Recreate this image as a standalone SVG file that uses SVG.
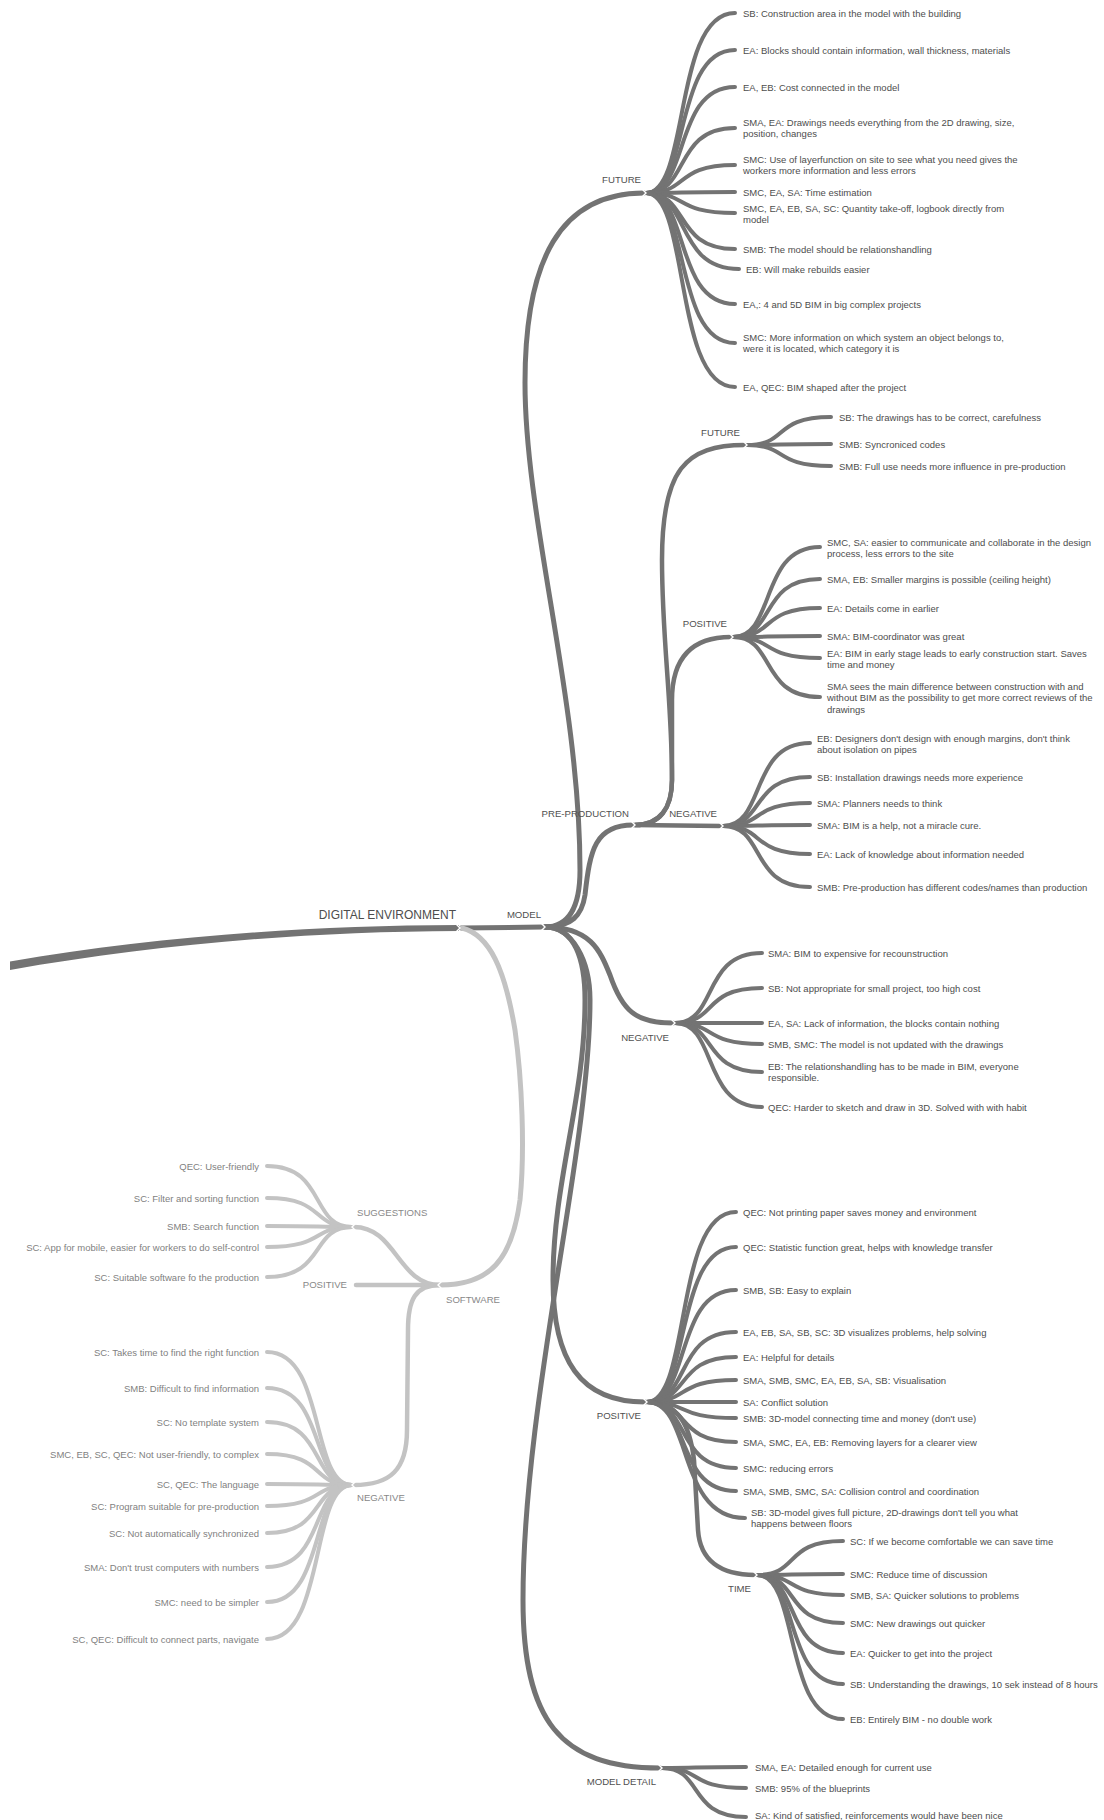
<svg xmlns="http://www.w3.org/2000/svg" width="1104" height="1820" viewBox="0 0 1104 1820">
<style>
.br{fill:none;stroke:#737373;stroke-linecap:round;stroke-width:5}
.l3{stroke-width:4.5}
.lf{stroke-width:4}
.sw{stroke:#c3c3c3}
.n{fill:none;stroke:#fff;stroke-width:1.4;stroke-linecap:butt}
text{font-family:"Liberation Sans",Arial,sans-serif;font-size:9.5px;fill:#4d4d4d}
.lb{font-size:9.6px;fill:#505050}
.st{fill:#7f7f7f}
.sl{font-size:9.6px;fill:#888}
.e{text-anchor:end}
</style>
<rect width="1104" height="1820" fill="#fff"/>
<g id="connectors">
<path d="M10,961.5 C150,937.5 300,925.5 459,925 L459,931 C300,931.5 150,945.5 10,970 Z" fill="#737373"/>
<path class="br" d="M461,928 L543,927"/>
<path class="br sw" d="M462,928 C490,935 505,970 515,1030 C522,1080 525,1150 520,1200 C512,1260 490,1285 440,1285"/>
<path class="br" d="M545,927 C570,927 580,905 580,870 C580,700 525,520 525,383 C525,260 560,193 644,193"/>
<path class="br" d="M545,927 C572,927 582,915 585,895 C590,850 595,825 633,825"/>
<path class="br" d="M545,927 C590,927 600,950 610,975 C622,1010 635,1023 673,1023"/>
<path class="br" d="M545,927 C575,927 585,960 585,1000 C585,1100 553,1180 553,1280 C553,1360 580,1402 645,1402"/>
<path class="br" d="M545,927 C572,927 590,960 590,1000 C590,1150 523,1400 523,1600 C523,1720 560,1768 660,1768"/>
<path class="br l3" d="M635,825 C660,825 672,808 672,780 C672,700 662,640 662,560 C662,470 685,445 745,445"/>
<path class="br l3" d="M635,825 C660,825 672,808 672,780 L672,700 C672,660 690,637 731,637"/>
<path class="br l3" d="M635,825 L721,826"/>
<path class="br l3" d="M647,1402 C678,1402 690,1425 694,1460 L698,1530 C700,1560 720,1575 755,1575"/>
<path class="br sw l3" d="M440,1285 C398,1285 396,1227 354,1227"/>
<path class="br sw l3" d="M440,1285 L356,1285"/>
<path class="br sw l3" d="M440,1285 C415,1285 408,1300 408,1330 L407,1430 C407,1470 390,1485 354,1485"/>
<g class="br lf">
<path d="M646,193 C690,193 673,13 735,13"/>
<path d="M646,193 C690,193 673,50 735,50"/>
<path d="M646,193 C690,193 673,87 735,87"/>
<path d="M646,193 C690,193 673,128 735,128"/>
<path d="M646,193 C690,193 673,165 735,165"/>
<path d="M646,193 C690,193 673,192 735,192"/>
<path d="M646,193 C690,193 673,213 735,213"/>
<path d="M646,193 C690,193 673,249 735,249"/>
<path d="M646,193 C690,193 675,269 739,269"/>
<path d="M646,193 C690,193 673,304 735,304"/>
<path d="M646,193 C690,193 673,343 735,343"/>
<path d="M646,193 C690,193 673,387 735,387"/>
<path d="M747,445 C789,445 772,417 831,417"/>
<path d="M747,445 C789,445 772,444 831,444"/>
<path d="M747,445 C789,445 772,466 831,466"/>
<path d="M733,637 C776,637 759,547 820,547"/>
<path d="M733,637 C776,637 759,579 820,579"/>
<path d="M733,637 C776,637 759,608 820,608"/>
<path d="M733,637 C776,637 759,636 820,636"/>
<path d="M733,637 C776,637 759,658 820,658"/>
<path d="M733,637 C776,637 759,697 820,697"/>
<path d="M723,826 C766,826 749,743 810,743"/>
<path d="M723,826 C766,826 749,777 810,777"/>
<path d="M723,826 C766,826 749,803 810,803"/>
<path d="M723,826 C766,826 749,825 810,825"/>
<path d="M723,826 C766,826 749,854 810,854"/>
<path d="M723,826 C766,826 749,887 810,887"/>
<path d="M675,1023 C718,1023 701,953 762,953"/>
<path d="M675,1023 C718,1023 701,988 762,988"/>
<path d="M675,1023 C718,1023 701,1023 762,1023"/>
<path d="M675,1023 C718,1023 701,1044 762,1044"/>
<path d="M675,1023 C718,1023 701,1072 762,1072"/>
<path d="M675,1023 C718,1023 701,1107 762,1107"/>
<path d="M647,1402 C691,1402 674,1212 736,1212"/>
<path d="M647,1402 C691,1402 674,1247 736,1247"/>
<path d="M647,1402 C691,1402 674,1290 736,1290"/>
<path d="M647,1402 C691,1402 674,1332 736,1332"/>
<path d="M647,1402 C691,1402 674,1357 736,1357"/>
<path d="M647,1402 C691,1402 674,1380 736,1380"/>
<path d="M647,1402 C691,1402 674,1402 736,1402"/>
<path d="M647,1402 C691,1402 674,1418 736,1418"/>
<path d="M647,1402 C691,1402 674,1442 736,1442"/>
<path d="M647,1402 C691,1402 674,1468 736,1468"/>
<path d="M647,1402 C691,1402 674,1491 736,1491"/>
<path d="M647,1402 C693,1402 676,1518 745,1518"/>
<path d="M757,1575 C800,1575 783,1541 843,1541"/>
<path d="M757,1575 C800,1575 783,1574 843,1574"/>
<path d="M757,1575 C800,1575 783,1595 843,1595"/>
<path d="M757,1575 C800,1575 783,1623 843,1623"/>
<path d="M757,1575 C800,1575 783,1653 843,1653"/>
<path d="M757,1575 C800,1575 783,1684 843,1684"/>
<path d="M757,1575 C800,1575 783,1719 843,1719"/>
<path d="M662,1768 C704,1768 687,1767 746,1767"/>
<path d="M662,1768 C704,1768 687,1788 746,1788"/>
<path d="M662,1768 C704,1768 687,1817 746,1817"/>
</g>
<g class="br lf sw">
<path d="M352,1227 C310,1227 326,1166 267,1166"/>
<path d="M352,1227 C310,1227 326,1198 267,1198"/>
<path d="M352,1227 C310,1227 326,1226 267,1226"/>
<path d="M352,1227 C310,1227 326,1247 267,1247"/>
<path d="M352,1227 C310,1227 326,1277 267,1277"/>
<path d="M352,1485 C310,1485 326,1352 267,1352"/>
<path d="M352,1485 C310,1485 326,1388 267,1388"/>
<path d="M352,1485 C310,1485 326,1422 267,1422"/>
<path d="M352,1485 C310,1485 326,1454 267,1454"/>
<path d="M352,1485 C310,1485 326,1484 267,1484"/>
<path d="M352,1485 C310,1485 326,1506 267,1506"/>
<path d="M352,1485 C310,1485 326,1533 267,1533"/>
<path d="M352,1485 C310,1485 326,1567 267,1567"/>
<path d="M352,1485 C310,1485 326,1602 267,1602"/>
<path d="M352,1485 C310,1485 326,1639 267,1639"/>
</g>
<g class="n">
<polyline points="456,924 460,928 456,932"/>
<polyline points="541,923 545,927 541,931"/>
<polyline points="642,189 646,193 642,197"/>
<polyline points="631,821 635,825 631,829"/>
<polyline points="743,441 747,445 743,449"/>
<polyline points="729,633 733,637 729,641"/>
<polyline points="719,822 723,826 719,830"/>
<polyline points="671,1019 675,1023 671,1027"/>
<polyline points="643,1398 647,1402 643,1406"/>
<polyline points="753,1571 757,1575 753,1579"/>
<polyline points="658,1764 662,1768 658,1772"/>
<polyline points="442,1281 438,1285 442,1289"/>
<polyline points="356,1223 352,1227 356,1231"/>
<polyline points="356,1481 352,1485 356,1489"/>
</g>
</g>
<g id="digital-environment"><text class="e" x="456" y="919" style="font-size:12px">DIGITAL ENVIRONMENT</text></g>
<g id="model"><text class="lb e" x="541" y="917.5">MODEL</text></g>
<g id="model-future">
<text class="lb e" x="641" y="182.5">FUTURE</text>
<text x="743" y="16.5">SB: Construction area in the model with the building</text>
<text x="743" y="53.5">EA: Blocks should contain information, wall thickness, materials</text>
<text x="743" y="90.5">EA, EB: Cost connected in the model</text>
<text x="743" y="125.5">SMA, EA: Drawings needs everything from the 2D drawing, size,<tspan x="743" dy="11.5">position, changes</tspan></text>
<text x="743" y="162.5">SMC: Use of layerfunction on site to see what you need gives the<tspan x="743" dy="11.5">workers more information and less errors</tspan></text>
<text x="743" y="195.5">SMC, EA, SA: Time estimation</text>
<text x="743" y="211.5">SMC, EA, EB, SA, SC: Quantity take-off, logbook directly from<tspan x="743" dy="11.5">model</tspan></text>
<text x="743" y="252.5">SMB: The model should be relationshandling</text>
<text x="746" y="272.5">EB: Will make rebuilds easier</text>
<text x="743" y="307.5">EA,: 4 and 5D BIM in big complex projects</text>
<text x="743" y="340.5">SMC: More information on which system an object belongs to,<tspan x="743" dy="11.5">were it is located, which category it is</tspan></text>
<text x="743" y="390.5">EA, QEC: BIM shaped after the project</text>
</g>
<g id="pre-production"><text class="lb e" x="629" y="816.5">PRE-PRODUCTION</text></g>
<g id="pp-future">
<text class="lb e" x="740" y="435.5">FUTURE</text>
<text x="839" y="420.5">SB: The drawings has to be correct, carefulness</text>
<text x="839" y="447.5">SMB: Syncroniced codes</text>
<text x="839" y="469.5">SMB: Full use needs more influence in pre-production</text>
</g>
<g id="pp-positive">
<text class="lb e" x="727" y="626.5">POSITIVE</text>
<text x="827" y="545.5">SMC, SA: easier to communicate and collaborate in the design<tspan x="827" dy="11.5">process, less errors to the site</tspan></text>
<text x="827" y="582.5">SMA, EB: Smaller margins is possible (ceiling height)</text>
<text x="827" y="611.5">EA: Details come in earlier</text>
<text x="827" y="639.5">SMA: BIM-coordinator was great</text>
<text x="827" y="656.5">EA: BIM in early stage leads to early construction start. Saves<tspan x="827" dy="11.5">time and money</tspan></text>
<text x="827" y="689.5">SMA sees the main difference between construction with and<tspan x="827" dy="11.5">without BIM as the possibility to get more correct reviews of the</tspan><tspan x="827" dy="11.5">drawings</tspan></text>
</g>
<g id="pp-negative">
<text class="lb e" x="717" y="816.5">NEGATIVE</text>
<text x="817" y="741.5">EB: Designers don't design with enough margins, don't think<tspan x="817" dy="11.5">about isolation on pipes</tspan></text>
<text x="817" y="780.5">SB: Installation drawings needs more experience</text>
<text x="817" y="806.5">SMA: Planners needs to think</text>
<text x="817" y="828.5">SMA: BIM is a help, not a miracle cure.</text>
<text x="817" y="857.5">EA: Lack of knowledge about information needed</text>
<text x="817" y="890.5">SMB: Pre-production has different codes/names than production</text>
</g>
<g id="model-negative">
<text class="lb e" x="669" y="1040.5">NEGATIVE</text>
<text x="768" y="956.5">SMA: BIM to expensive for recounstruction</text>
<text x="768" y="991.5">SB: Not appropriate for small project, too high cost</text>
<text x="768" y="1026.5">EA, SA: Lack of information, the blocks contain nothing</text>
<text x="768" y="1047.5">SMB, SMC: The model is not updated with the drawings</text>
<text x="768" y="1069.5">EB: The relationshandling has to be made in BIM, everyone<tspan x="768" dy="11.5">responsible.</tspan></text>
<text x="768" y="1110.5">QEC: Harder to sketch and draw in 3D. Solved with with habit</text>
</g>
<g id="model-positive">
<text class="lb e" x="641" y="1418.5">POSITIVE</text>
<text x="743" y="1215.5">QEC: Not printing paper saves money and environment</text>
<text x="743" y="1250.5">QEC: Statistic function great, helps with knowledge transfer</text>
<text x="743" y="1293.5">SMB, SB: Easy to explain</text>
<text x="743" y="1335.5">EA, EB, SA, SB, SC: 3D visualizes problems, help solving</text>
<text x="743" y="1360.5">EA: Helpful for details</text>
<text x="743" y="1383.5">SMA, SMB, SMC, EA, EB, SA, SB: Visualisation</text>
<text x="743" y="1405.5">SA: Conflict solution</text>
<text x="743" y="1421.5">SMB: 3D-model connecting time and money (don't use)</text>
<text x="743" y="1445.5">SMA, SMC, EA, EB: Removing layers for a clearer view</text>
<text x="743" y="1471.5">SMC: reducing errors</text>
<text x="743" y="1494.5">SMA, SMB, SMC, SA: Collision control and coordination</text>
<text x="751" y="1515.5">SB: 3D-model gives full picture, 2D-drawings don't tell you what<tspan x="751" dy="11.5">happens between floors</tspan></text>
</g>
<g id="time">
<text class="lb e" x="751" y="1591.5">TIME</text>
<text x="850" y="1544.5">SC: If we become comfortable we can save time</text>
<text x="850" y="1577.5">SMC: Reduce time of discussion</text>
<text x="850" y="1598.5">SMB, SA: Quicker solutions to problems</text>
<text x="850" y="1626.5">SMC: New drawings out quicker</text>
<text x="850" y="1656.5">EA: Quicker to get into the project</text>
<text x="850" y="1687.5">SB: Understanding the drawings, 10 sek instead of 8 hours</text>
<text x="850" y="1722.5">EB: Entirely BIM - no double work</text>
</g>
<g id="model-detail">
<text class="lb e" x="656" y="1784.5">MODEL DETAIL</text>
<text x="755" y="1770.5">SMA, EA: Detailed enough for current use</text>
<text x="755" y="1791.5">SMB: 95% of the blueprints</text>
<text x="755" y="1819">SA: Kind of satisfied, reinforcements would have been nice</text>
</g>
<g id="software"><text class="sl" x="446" y="1302.5">SOFTWARE</text></g>
<g id="software-positive"><text class="sl e" x="347" y="1287.5">POSITIVE</text></g>
<g id="suggestions">
<text class="sl" x="357" y="1215.5">SUGGESTIONS</text>
<text class="st e" x="259" y="1169.5">QEC: User-friendly</text>
<text class="st e" x="259" y="1201.5">SC: Filter and sorting function</text>
<text class="st e" x="259" y="1229.5">SMB: Search function</text>
<text class="st e" x="259" y="1250.5">SC: App for mobile, easier for workers to do self-control</text>
<text class="st e" x="259" y="1280.5">SC: Suitable software fo the production</text>
</g>
<g id="software-negative">
<text class="sl" x="357" y="1500.5">NEGATIVE</text>
<text class="st e" x="259" y="1355.5">SC: Takes time to find the right function</text>
<text class="st e" x="259" y="1391.5">SMB: Difficult to find information</text>
<text class="st e" x="259" y="1425.5">SC: No template system</text>
<text class="st e" x="259" y="1457.5">SMC, EB, SC, QEC: Not user-friendly, to complex</text>
<text class="st e" x="259" y="1487.5">SC, QEC: The language</text>
<text class="st e" x="259" y="1509.5">SC: Program suitable for pre-production</text>
<text class="st e" x="259" y="1536.5">SC: Not automatically synchronized</text>
<text class="st e" x="259" y="1570.5">SMA: Don't trust computers with numbers</text>
<text class="st e" x="259" y="1605.5">SMC: need to be simpler</text>
<text class="st e" x="259" y="1642.5">SC, QEC: Difficult to connect parts, navigate</text>
</g>
</svg>
